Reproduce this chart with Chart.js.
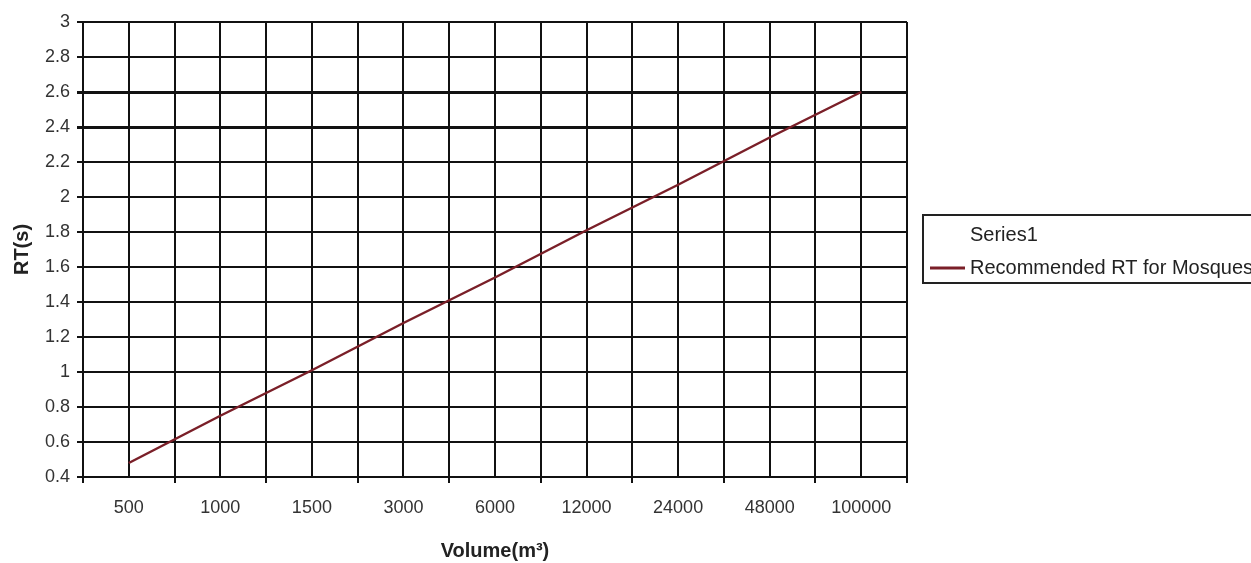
<!DOCTYPE html>
<html>
<head>
<meta charset="utf-8">
<title>RT vs Volume</title>
<script src="https://cdn.jsdelivr.net/npm/chart.js@4.4.1/dist/chart.umd.min.js"></script>
<style>
  html, body { margin: 0; padding: 0; background: #fff; }
  #wrap { width: 1251px; height: 563px; position: relative; }
</style>
</head>
<body>
<div id="wrap"><canvas id="rtChart"></canvas></div>
<script>
// chart data
var volumes = ["500", "1000", "1500", "3000", "6000", "12000", "24000", "48000", "100000"];
var recommendedRT = [0.48, 0.75, 1.01, 1.28, 1.54, 1.81, 2.07, 2.34, 2.6];
var series1 = [];
var rtTicks = { min: 0.4, max: 3, step: 0.2 };

var lineColor = "#7a1f28";
var gridColor = "#111";
var fontFamily = "'Liberation Sans', Arial, sans-serif";

// one point per volume category, x is the category index
var rtPoints = [];
for (var i = 0; i < volumes.length; i++) {
  rtPoints.push({ x: i, y: recommendedRT[i] });
}

// legend drawn as a framed box like the spreadsheet original
var boxLegend = {
  id: "boxLegend",
  afterDraw: function (chart) {
    var ctx = chart.ctx;
    var left = chart.chartArea.right + 16;
    var top = 215;
    ctx.save();
    ctx.strokeStyle = "#222";
    ctx.lineWidth = 2;
    ctx.strokeRect(left, top, 400, 68);
    ctx.font = "20px " + fontFamily;
    ctx.fillStyle = "#222";
    ctx.textBaseline = "middle";
    chart.data.datasets.forEach(function (ds, k) {
      var y = top + 20 + k * 33;
      if (ds.data.length) {
        ctx.strokeStyle = ds.borderColor;
        ctx.lineWidth = 3;
        ctx.beginPath();
        ctx.moveTo(left + 7, y);
        ctx.lineTo(left + 42, y);
        ctx.stroke();
      }
      ctx.fillText(ds.label, left + 47, y);
    });
    ctx.restore();
  }
};

new Chart(document.getElementById("rtChart"), {
  type: "line",
  data: {
    datasets: [
      {
        label: "Series1",
        data: series1,
        borderColor: "rgba(0,0,0,0)",
        pointRadius: 0
      },
      {
        label: "Recommended RT for Mosques",
        data: rtPoints,
        borderColor: lineColor,
        borderWidth: 2.5,
        pointRadius: 0,
        tension: 0,
        fill: false
      }
    ]
  },
  options: {
    responsive: true,
    maintainAspectRatio: false,
    animation: false,
    layout: { padding: { top: 22, right: 344, left: 0, bottom: 0 } },
    plugins: {
      legend: { display: false },
      tooltip: { enabled: false }
    },
    scales: {
      x: {
        type: "linear",
        min: -0.5,
        max: volumes.length - 0.5,
        afterFit: function (scale) { scale.height = 86; },
        border: { color: gridColor, width: 2 },
        grid: {
          color: gridColor,
          lineWidth: 2,
          tickLength: 6,
          tickColor: function (c) {
            return (c.tick && Number.isInteger(c.tick.value)) ? "rgba(0,0,0,0)" : gridColor;
          }
        },
        ticks: {
          stepSize: 0.5,
          autoSkip: false,
          maxRotation: 0,
          padding: 14,
          color: "#333",
          font: { family: fontFamily, size: 18 },
          callback: function (v) {
            return Number.isInteger(v) ? volumes[v] : "";
          }
        },
        title: {
          display: true,
          text: "Volume(m³)",
          color: "#222",
          padding: { top: 0, bottom: 0 },
          font: { family: fontFamily, size: 20, weight: "bold" }
        }
      },
      y: {
        min: rtTicks.min,
        max: rtTicks.max,
        afterFit: function (scale) { scale.width = 83; },
        border: { color: gridColor, width: 2 },
        grid: {
          color: gridColor,
          tickLength: 6,
          lineWidth: function (c) {
            var v = c.tick ? c.tick.value : 0;
            return (Math.abs(v - 2.4) < 1e-6 || Math.abs(v - 2.6) < 1e-6) ? 3 : 2;
          }
        },
        ticks: {
          stepSize: rtTicks.step,
          padding: 7,
          color: "#333",
          font: { family: fontFamily, size: 18 },
          callback: function (v) {
            return String(Number(v.toFixed(1)));
          }
        },
        title: {
          display: true,
          text: "RT(s)",
          color: "#222",
          padding: { top: 10, bottom: 0 },
          font: { family: fontFamily, size: 20, weight: "bold" }
        }
      }
    }
  },
  plugins: [boxLegend]
});
</script>
</body>
</html>
